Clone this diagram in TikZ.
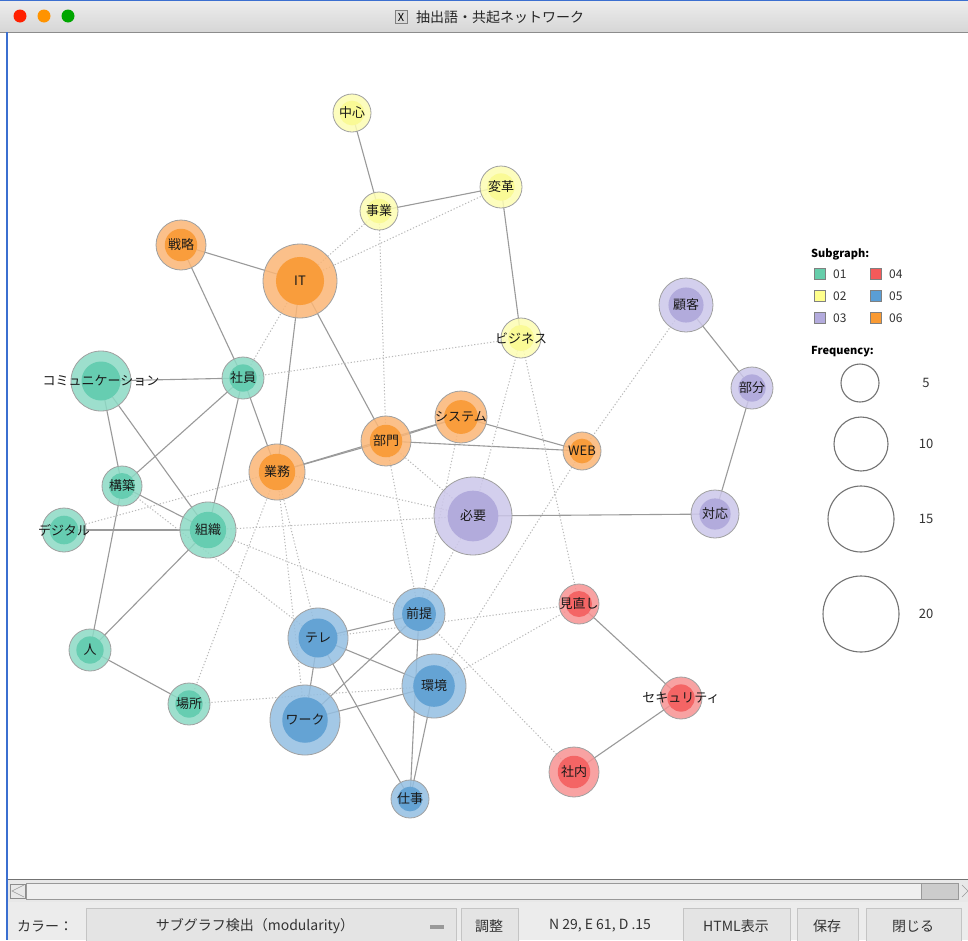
\documentclass[tikz,border=0pt]{standalone}
\usepackage{fontspec}
\setmainfont{Noto Sans CJK JP}
\pgfdeclarelayer{canvas}
\pgfdeclarelayer{edges}
\pgfsetlayers{canvas,edges,main}
\definecolor{tealO}{HTML}{8DDAC5}\definecolor{tealI}{HTML}{66CDB1}
\definecolor{yelO}{HTML}{FDFDB3}\definecolor{yelI}{HTML}{FAFA96}
\definecolor{purO}{HTML}{CCC7EA}\definecolor{purI}{HTML}{B2ABDC}
\definecolor{redO}{HTML}{F79292}\definecolor{redI}{HTML}{F46565}
\definecolor{bluO}{HTML}{94BFE2}\definecolor{bluI}{HTML}{64A3D4}
\definecolor{oraO}{HTML}{FBB676}\definecolor{oraI}{HTML}{F99D3C}
\definecolor{tealL}{HTML}{66CDAA}\definecolor{yelL}{HTML}{FFFF8C}
\definecolor{purL}{HTML}{B3ABDD}\definecolor{redL}{HTML}{F45A5A}
\definecolor{bluL}{HTML}{5A9ED6}\definecolor{oraL}{HTML}{F99A33}
\definecolor{nodeline}{HTML}{A0A0A0}
\definecolor{edgegray}{HTML}{9A9A9A}
\definecolor{dotgray}{HTML}{B8B8B8}
\definecolor{winblue}{HTML}{3B6FD0}
\definecolor{barbg}{HTML}{ECECEC}
\definecolor{btnbg}{HTML}{E4E4E4}
\definecolor{btnline}{HTML}{C4C4C4}
\definecolor{uitext}{HTML}{333333}
\tikzset{
  wnode/.style={circle, draw=nodeline, line width=0.8pt, inner sep=0pt,
    fill opacity=0.85, text opacity=1, text=black!90,
    font=\fontsize{13}{15}\selectfont},
  sol/.style={draw=edgegray, line width=1.1pt},
  dot/.style={draw=dotgray, line width=1pt, dash pattern=on 1.2pt off 2pt},
  legsq/.style={draw=gray, line width=0.6pt, minimum size=11pt, inner sep=0pt},
  legtx/.style={anchor=west, inner sep=0pt, text=uitext, font=\fontsize{12}{14}\selectfont},
  legcirc/.style={circle, draw=black!55, line width=1.1pt, inner sep=0pt},
  btn/.style={draw=btnline, fill=btnbg, line width=0.6pt},
  uitx/.style={inner sep=0pt, text=uitext, font=\fontsize{14}{16}\selectfont},
}
\newcommand{\wn}[6]{\node[wnode, minimum size={2*#4 pt}, fill=#5O,
  path picture={\fill[#5I, fill opacity=1] (path picture bounding box.center) circle ({0.65*#4 pt});}]
  (#1) at (#2,#3) {\makebox[0pt]{#6}};}
\begin{document}
\begin{tikzpicture}[x=1pt,y=-1pt]
\useasboundingbox (0,0) rectangle (968,940);
\begin{pgfonlayer}{canvas}
\fill[white] (0,0) rectangle (968,940);
\end{pgfonlayer}
% title bar
\shade[top color=white!93!black, bottom color=white!84!black] (0,0) rectangle (968,32);
\draw[black!45, line width=1pt] (0,32) -- (968,32);
\draw[winblue, line width=1.2pt] (0,0.6) -- (968,0.6);
\draw[winblue, line width=1.4pt] (7,32) -- (7,940);
\fill[red!75!orange] (20,16) circle (6.5);
\fill[orange!85!yellow] (44,16) circle (6.5);
\fill[green!65!black] (68,16) circle (6.5);
\node[draw=black!50, fill=black!15, inner sep=0.8pt, minimum width=12pt, minimum height=13pt, font=\fontsize{11}{11}\selectfont] (xicon) at (401,17) {X};
\node[inner sep=0pt, text=black!85, font=\fontsize{14}{16}\selectfont] (title) at (500,17) {抽出語・共起ネットワーク};

% nodes
\wn{chushin}{352}{113}{19}{yel}{中心}
\wn{jigyo}{379}{211}{19}{yel}{事業}
\wn{henkaku}{501}{187}{21}{yel}{変革}
\wn{business}{521}{338}{20}{yel}{ビジネス}
\wn{senryaku}{181}{245}{25}{ora}{戦略}
\wn{it}{300}{281}{37}{ora}{IT}
\wn{shain}{243}{378}{21}{teal}{社員}
\wn{comm}{101}{381}{30}{teal}{コミュニケーション}
\wn{kochiku}{122}{486}{20}{teal}{構築}
\wn{digital}{64}{530}{22}{teal}{デジタル}
\wn{soshiki}{208}{530}{28}{teal}{組織}
\wn{hito}{90}{650}{21}{teal}{人}
\wn{basho}{189}{704}{21}{teal}{場所}
\wn{gyomu}{277}{472}{28}{ora}{業務}
\wn{bumon}{386}{441}{25}{ora}{部門}
\wn{system}{461}{417}{26}{ora}{システム}
\wn{web}{582}{451}{19}{ora}{WEB}
\wn{hitsuyo}{473}{516}{39}{pur}{必要}
\wn{kokyaku}{686}{305}{27}{pur}{顧客}
\wn{bubun}{752}{388}{21}{pur}{部分}
\wn{taio}{715}{514}{24}{pur}{対応}
\wn{zentei}{419}{614}{26}{blu}{前提}
\wn{tele}{318}{638}{30}{blu}{テレ}
\wn{kankyo}{434}{686}{32}{blu}{環境}
\wn{work}{305}{720}{35}{blu}{ワーク}
\wn{shigoto}{410}{799}{19}{blu}{仕事}
\wn{minaoshi}{579}{604}{20}{red}{見直し}
\wn{security}{681}{698}{21}{red}{セキュリティ}
\wn{shanai}{574}{772}{25}{red}{社内}

\begin{pgfonlayer}{edges}
% solid
\draw[sol] (chushin.center) -- (jigyo.center);
\draw[sol] (jigyo.center) -- (henkaku.center);
\draw[sol] (henkaku.center) -- (business.center);
\draw[sol] (senryaku.center) -- (it.center);
\draw[sol] (senryaku.center) -- (shain.center);
\draw[sol] (it.center) -- (gyomu.center);
\draw[sol] (it.center) -- (bumon.center);
\draw[sol] (shain.center) -- (comm.center);
\draw[sol] (shain.center) -- (kochiku.center);
\draw[sol] (shain.center) -- (soshiki.center);
\draw[sol] (shain.center) -- (gyomu.center);
\draw[sol] (comm.center) -- (kochiku.center);
\draw[sol] (comm.center) -- (soshiki.center);
\draw[sol] (kochiku.center) -- (soshiki.center);
\draw[sol] (kochiku.center) -- (hito.center);
\draw[sol] (digital.center) -- (soshiki.center);
\draw[sol] (soshiki.center) -- (hito.center);
\draw[sol] (hito.center) -- (basho.center);
\draw[sol] (gyomu.center) -- (bumon.center);
\draw[sol] (gyomu.center) -- (system.center);
\draw[sol] (bumon.center) -- (system.center);
\draw[sol] (bumon.center) -- (web.center);
\draw[sol] (system.center) -- (web.center);
\draw[sol] (hitsuyo.center) -- (taio.center);
\draw[sol] (kokyaku.center) -- (bubun.center);
\draw[sol] (bubun.center) -- (taio.center);
\draw[sol] (zentei.center) -- (tele.center);
\draw[sol] (zentei.center) -- (work.center);
\draw[sol] (zentei.center) -- (shigoto.center);
\draw[sol] (tele.center) -- (kankyo.center);
\draw[sol] (tele.center) -- (work.center);
\draw[sol] (tele.center) -- (shigoto.center);
\draw[sol] (kankyo.center) -- (work.center);
\draw[sol] (kankyo.center) -- (shigoto.center);
\draw[sol] (minaoshi.center) -- (security.center);
\draw[sol] (security.center) -- (shanai.center);
% dotted
\draw[dot] (jigyo.center) -- (it.center);
\draw[dot] (henkaku.center) -- (it.center);
\draw[dot] (jigyo.center) -- (bumon.center);
\draw[dot] (it.center) -- (shain.center);
\draw[dot] (shain.center) -- (business.center);
\draw[dot] (business.center) -- (minaoshi.center);
\draw[dot] (business.center) -- (hitsuyo.center);
\draw[dot] (kokyaku.center) -- (web.center);
\draw[dot] (web.center) -- (kankyo.center);
\draw[dot] (bumon.center) -- (hitsuyo.center);
\draw[dot] (bumon.center) -- (zentei.center);
\draw[dot] (system.center) -- (zentei.center);
\draw[dot] (digital.center) -- (gyomu.center);
\draw[dot] (gyomu.center) -- (hitsuyo.center);
\draw[dot] (soshiki.center) -- (hitsuyo.center);
\draw[dot] (soshiki.center) -- (zentei.center);
\draw[dot] (kochiku.center) -- (tele.center);
\draw[dot] (gyomu.center) -- (work.center);
\draw[dot] (gyomu.center) -- (tele.center);
\draw[dot] (basho.center) -- (gyomu.center);
\draw[dot] (basho.center) -- (kankyo.center);
\draw[dot] (tele.center) -- (minaoshi.center);
\draw[dot] (minaoshi.center) -- (kankyo.center);
\draw[dot] (zentei.center) -- (shanai.center);
\draw[dot] (hitsuyo.center) -- (zentei.center);
\end{pgfonlayer}

% legend
\node[anchor=west, inner sep=0pt, font=\bfseries\fontsize{11}{13}\selectfont] (subg) at (811,254) {Subgraph:};
\node[legsq, fill=tealL] (s1) at (820,274) {};
\node[legsq, fill=yelL] (s2) at (820,296) {};
\node[legsq, fill=purL] (s3) at (820,318) {};
\node[legsq, fill=redL] (s4) at (876,274) {};
\node[legsq, fill=bluL] (s5) at (876,296) {};
\node[legsq, fill=oraL] (s6) at (876,318) {};
\node[legtx] (t1) at (833,274) {01};
\node[legtx] (t2) at (833,296) {02};
\node[legtx] (t3) at (833,318) {03};
\node[legtx] (t4) at (889,274) {04};
\node[legtx] (t5) at (889,296) {05};
\node[legtx] (t6) at (889,318) {06};
\node[anchor=west, inner sep=0pt, font=\bfseries\fontsize{11}{13}\selectfont] (freq) at (811,352) {Frequency:};
\node[legcirc, minimum size=38pt] (c5) at (860,383) {};
\node[legcirc, minimum size=54pt] (c10) at (861,444) {};
\node[legcirc, minimum size=66pt] (c15) at (861,519) {};
\node[legcirc, minimum size=76pt] (c20) at (861,614) {};
\node[uitx, font=\fontsize{13}{15}\selectfont] (f5) at (926,383) {5};
\node[uitx, font=\fontsize{13}{15}\selectfont] (f10) at (926,444) {10};
\node[uitx, font=\fontsize{13}{15}\selectfont] (f15) at (926,519) {15};
\node[uitx, font=\fontsize{13}{15}\selectfont] (f20) at (926,614) {20};

% scrollbar
\fill[white!91!black] (8,879) rectangle (968,902);
\draw[black!55, line width=0.8pt] (8,879) -- (968,879);
\draw[black!40, line width=0.6pt] (24,885) -- (12,891) -- (24,897);
\draw[black!45, line width=0.6pt] (10,884) rectangle (25,898);
\draw[black!40, fill=white!94!black, line width=0.6pt] (26,883) rectangle (921,899);
\draw[black!40, fill=white!80!black, line width=0.6pt] (921,883) rectangle (958,899);
\draw[black!40, line width=0.6pt] (962,885) -- (968,891) -- (962,897);
% toolbar
\fill[barbg] (8,902) rectangle (968,940);
\node[uitx] (lblcolor) at (45,926) {カラー：};
\draw[btn] (86,908) rectangle (456,942);
\node[uitx] (combo) at (255,926) {サブグラフ検出（modularity）};
\fill[black!40] (430,925) rectangle (444,929);
\draw[btn] (461,908) rectangle (518,942);
\node[uitx] (chosei) at (489,926) {調整};
\node[uitx] (stats) at (600,926) {N 29, E 61, D .15};
\draw[btn] (683,908) rectangle (790,942);
\node[uitx] (html) at (736,926) {HTML表示};
\draw[btn] (797,908) rectangle (858,942);
\node[uitx] (save) at (827,926) {保存};
\draw[btn] (866,908) rectangle (961,942);
\node[uitx] (close) at (913,926) {閉じる};
\end{tikzpicture}
\end{document}
